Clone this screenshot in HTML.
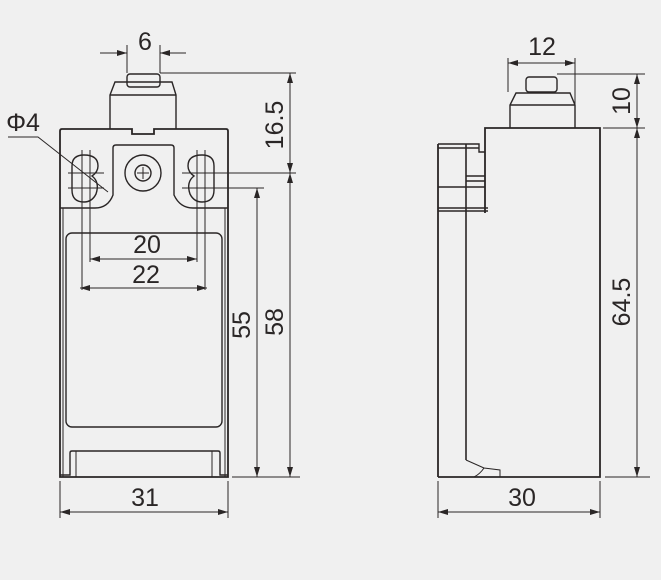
<!DOCTYPE html>
<html><head><meta charset="utf-8"><style>
html,body{margin:0;padding:0;background:#f0f0f0;}
svg{display:block;}
text{font-family:"Liberation Sans",sans-serif;fill:#2a2626;}
</style></head><body>
<svg width="661" height="580" viewBox="0 0 661 580" xmlns="http://www.w3.org/2000/svg">
<defs>
<marker id="a" viewBox="0 0 10 6" refX="10" refY="3" markerWidth="10" markerHeight="6" orient="auto-start-reverse" markerUnits="userSpaceOnUse"><path d="M0,0 L10,3 L0,6 Z" fill="#2a2626"/></marker>
</defs>
<rect width="661" height="580" fill="#f0f0f0"/>
<g fill="none" stroke="#2a2626" stroke-width="1.4">
<!-- LEFT VIEW -->
<path d="M60,477 V131 Q60,129 62,129 H132 V134 H154 V129 H226 Q228,129 228,131 V477 Z" stroke-width="1.8"/>
<path d="M63,208 V477 M225,208 V477" stroke-width="1"/>
<path d="M110,129 V95 L115,82 H172 L176,95 V129" />
<path d="M110,95 H176"/>
<rect x="127" y="74" width="33" height="13" rx="3"/>
<path d="M60,208 H95 Q108,208 113,195 V148 Q113,145 116,145 H171 Q174,145 174,148 V195 Q180,208 193,208 H228"/>
<circle cx="143" cy="173" r="18"/>
<circle cx="143" cy="173" r="8"/>
<path d="M137,173 H149 M143,167 V179" stroke-width="1"/>
<path d="M72,166 Q72,155 84,155 Q98,155 98,166 Q98,172 92,176 Q100,182 96,194 Q92,202 84,202 Q72,202 72,190 Z"/>
<path d="M214,166 Q214,155 202,155 Q188,155 188,166 Q188,172 194,176 Q186,182 190,194 Q194,202 202,202 Q214,202 214,190 Z"/>
<path d="M82,150 V290 M90,150 V262 M197,150 V262 M205,150 V290" stroke-width="1"/>
<path d="M68,173 H104 M68,188 H104 M182,173 H296 M182,188 H264" stroke-width="1"/>
<rect x="66" y="233" width="156" height="194" rx="6"/>
<path d="M60,475 H70 V453 Q70,451 72,451 H218 Q220,451 220,453 V475 H228"/>
<path d="M76,451 V477 M212,451 V477" stroke-width="1"/>
<path d="M127,45 V73 M160,45 V73 M160,73 H296" stroke-width="1"/>
<path d="M100,53 H127" marker-end="url(#a)" stroke-width="1"/>
<path d="M186,53 H160" marker-end="url(#a)" stroke-width="1"/>
<path d="M290,73 V173" marker-start="url(#a)" marker-end="url(#a)" stroke-width="1"/>
<path d="M290,173 V477" marker-start="url(#a)" marker-end="url(#a)" stroke-width="1"/>
<path d="M257,188 V477" marker-start="url(#a)" marker-end="url(#a)" stroke-width="1"/>
<path d="M232,477 H300" stroke-width="1"/>
<path d="M90,259 H197" marker-start="url(#a)" marker-end="url(#a)" stroke-width="1"/>
<path d="M80,288 H207" marker-start="url(#a)" marker-end="url(#a)" stroke-width="1"/>
<path d="M60,481 V518 M228,481 V518" stroke-width="1"/>
<path d="M60,512 H228" marker-start="url(#a)" marker-end="url(#a)" stroke-width="1"/>
<path d="M8,137 H38 L108,192" stroke-width="1"/>
<!-- RIGHT VIEW -->
<path d="M485,213 V128 H600 V477 H438" stroke-width="1.8"/>
<line x1="438" y1="144" x2="438" y2="477" stroke-width="1.8"/>
<path d="M438,144 H479 V152 H485 M438,148 H479" />
<path d="M466,176 H485 M466,181 H485 M438,187 H485 M438,208 H488 M438,211 H488" />
<path d="M466,144 V460" stroke-width="1.6"/>
<path d="M466,460 L484,468 Q480,474 474,477 M484,468 L500,470 V477" stroke-width="1"/>
<path d="M510,128 V105 L516,93 H570 L575,105 V128 M510,105 H575"/>
<rect x="526" y="77" width="31" height="15" rx="3"/>
<path d="M508,58 V92 M575,58 V105" stroke-width="1"/>
<path d="M508,63 H575" marker-start="url(#a)" marker-end="url(#a)" stroke-width="1"/>
<path d="M557,74 H645 M603,128 H645 M605,477 H650" stroke-width="1"/>
<path d="M637,74 V128" marker-start="url(#a)" marker-end="url(#a)" stroke-width="1"/>
<path d="M637,128 V477" marker-start="url(#a)" marker-end="url(#a)" stroke-width="1"/>
<path d="M438,481 V518 M600,481 V518" stroke-width="1"/>
<path d="M438,512 H600" marker-start="url(#a)" marker-end="url(#a)" stroke-width="1"/>
</g>
<g font-size="25">
<text x="145" y="50" text-anchor="middle">6</text>
<text x="23" y="131" text-anchor="middle">Φ4</text>
<text x="147" y="253" text-anchor="middle">20</text>
<text x="146" y="283" text-anchor="middle">22</text>
<text x="145" y="506" text-anchor="middle">31</text>
<text x="542" y="55" text-anchor="middle">12</text>
<text x="522" y="506" text-anchor="middle">30</text>
<text transform="translate(283,125) rotate(-90)" text-anchor="middle">16.5</text>
<text transform="translate(283,322) rotate(-90)" text-anchor="middle">58</text>
<text transform="translate(250,325) rotate(-90)" text-anchor="middle">55</text>
<text transform="translate(630,101) rotate(-90)" text-anchor="middle">10</text>
<text transform="translate(630,302) rotate(-90)" text-anchor="middle">64.5</text>
</g>
</svg>
</body></html>
